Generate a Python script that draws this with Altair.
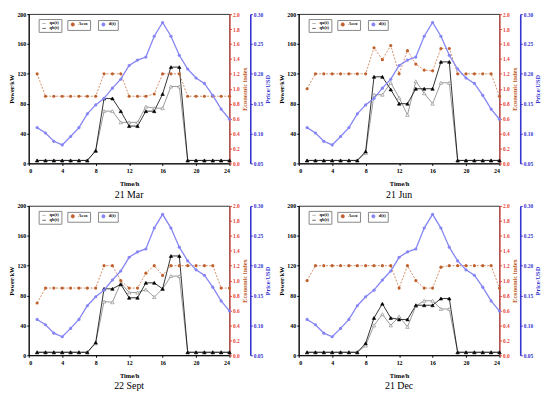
import altair as alt
import pandas as pd

hours = list(range(1, 25))
price = [0.110, 0.101, 0.087, 0.081, 0.095, 0.110, 0.133, 0.148, 0.159, 0.176, 0.191, 0.214,
         0.223, 0.228, 0.263, 0.286, 0.263, 0.231, 0.208, 0.193, 0.184, 0.164, 0.141, 0.124]

panels = ["21 Mar", "21 Jun", "22 Sept", "21 Dec"]

qa_mar = [4, 4, 4, 4, 4, 4, 4, 17, 70, 70, 55, 55, 55, 76, 74, 74, 103, 103, 4, 4, 4, 4, 4, 4]
qb_mar = [4, 4, 4, 4, 4, 4, 4, 17, 87, 87, 70, 50, 50, 70, 70, 93, 129, 129, 4, 4, 4, 4, 4, 4]
aeco_mar = [1.2, 0.9, 0.9, 0.9, 0.9, 0.9, 0.9, 0.9, 1.2, 1.2, 1.2, 0.9, 0.9, 0.9, 0.93, 1.2,
            1.2, 1.2, 0.9, 0.9, 0.9, 0.9, 0.9, 0.9]

qa_jun = [4, 4, 4, 4, 4, 4, 4, 14, 92, 92, 108, 88, 65, 110, 94, 80, 108, 108, 4, 4, 4, 4, 4, 4]
qb_jun = [4, 4, 4, 4, 4, 4, 4, 16, 116, 116, 99, 80, 80, 100, 100, 100, 136, 136, 4, 4, 4, 4, 4, 4]
aeco_jun = [1.0, 1.2, 1.2, 1.2, 1.2, 1.2, 1.2, 1.2, 1.55, 1.39, 1.58, 1.2, 1.51, 1.33, 1.25, 1.24,
            1.54, 1.54, 1.2, 1.2, 1.2, 1.2, 1.2, 0.9]

qa_sep = [4, 4, 4, 4, 4, 4, 4, 16, 72, 71, 97, 84, 84, 88, 78, 89, 106, 106, 4, 4, 4, 4, 4, 4]
qb_sep = [4, 4, 4, 4, 4, 4, 4, 17, 89, 89, 95, 77, 77, 97, 97, 89, 133, 133, 4, 4, 4, 4, 4, 4]
aeco_sep = [0.7, 0.9, 0.9, 0.9, 0.9, 0.9, 0.9, 0.9, 1.2, 1.2, 1.0, 0.9, 0.9, 1.1, 1.2, 1.07,
            1.2, 1.2, 1.2, 1.2, 1.2, 1.2, 0.9, 0.9]

qa_dec = [4, 4, 4, 4, 4, 4, 4, 13, 40, 55, 40, 52, 38, 66, 73, 73, 62, 62, 4, 4, 4, 4, 4, 4]
qb_dec = [4, 4, 4, 4, 4, 4, 4, 16, 50, 69, 50, 48, 48, 67, 67, 67, 76, 76, 4, 4, 4, 4, 4, 4]
aeco_dec = [1.0, 1.2, 1.2, 1.2, 1.2, 1.2, 1.2, 1.2, 1.2, 1.2, 1.2, 0.9, 1.2, 1.0, 0.9, 0.9,
            1.18, 1.2, 1.2, 1.2, 1.2, 1.2, 1.2, 0.9]

series_data = {
    "21 Mar": (qa_mar, qb_mar, aeco_mar),
    "21 Jun": (qa_jun, qb_jun, aeco_jun),
    "22 Sept": (qa_sep, qb_sep, aeco_sep),
    "21 Dec": (qa_dec, qb_dec, aeco_dec),
}

FONT = "Liberation Serif"
W, H = 203, 151
RED = "#e8403a"
BROWN = "#c0602c"
BLUE = "#3535d0"
LBLUE = "#8585f5"


def legend(x, y):
    return alt.Legend(orient="none", legendX=x, legendY=y, title=None,
                      labelFont=FONT, labelFontSize=4.5, labelFontWeight="bold",
                      symbolSize=12, symbolStrokeWidth=0.6, padding=2,
                      rowPadding=0, strokeColor="#888", fillColor="white",
                      labelOffset=3, symbolOffset=1)


def panel(name):
    qa, qb, aeco = series_data[name]
    pw = pd.DataFrame({"h": hours * 2, "v": qa + qb,
                       "s": ["qa(t)"] * 24 + ["qb(t)"] * 24})
    ec = pd.DataFrame({"h": hours, "v": aeco, "s": ["Aeco"] * 24})
    pr = pd.DataFrame({"h": hours, "v": price, "s": ["d(t)"] * 24})

    x = alt.X("h:Q", scale=alt.Scale(domain=[0, 24], nice=False),
              axis=alt.Axis(values=list(range(0, 25, 4)), title="Time/h", grid=False,
                            labelFont=FONT, labelFontSize=6, labelFontWeight="bold",
                            titleFont=FONT, titleFontSize=6.5, titleFontWeight="bold",
                            domainColor="black", tickColor="black", tickSize=2,
                            labelPadding=2, titlePadding=7))

    y_pow = alt.Y("v:Q", scale=alt.Scale(domain=[0, 200], nice=False),
                  axis=alt.Axis(orient="left", values=list(range(0, 201, 40)), title="Power/kW",
                                grid=False, labelFont=FONT, labelFontSize=6, labelFontWeight="bold",
                                titleFont=FONT, titleFontSize=6.5, titleFontWeight="bold",
                                domainColor="black", tickColor="black", tickSize=2,
                                labelPadding=1, titlePadding=2))
    cscale = alt.Scale(domain=["qa(t)", "qb(t)"], range=["#808080", "#000000"])
    lines = alt.Chart(pw).mark_line(strokeWidth=0.8).encode(
        x=x, y=y_pow,
        color=alt.Color("s:N", scale=cscale, legend=legend(10, 5)))
    pts = alt.Chart(pw).mark_point(shape="triangle-up", size=12, strokeWidth=0.6,
                                   opacity=1).encode(
        x=x, y=y_pow,
        color=alt.Color("s:N", scale=cscale, legend=legend(10, 5)),
        fill=alt.Fill("s:N", scale=alt.Scale(domain=["qa(t)", "qb(t)"],
                                             range=["white", "black"]), legend=None))
    power = alt.layer(lines, pts)

    y_eco = alt.Y("v:Q", scale=alt.Scale(domain=[0, 2], nice=False),
                  axis=alt.Axis(orient="right", values=[i / 5 for i in range(11)], format=".1f",
                                title="Economic index", grid=False, titleAngle=270,
                                titleBaseline="top",
                                labelFont=FONT, labelFontSize=5.5, labelFontWeight="bold",
                                labelColor=RED, titleColor=BROWN,
                                titleFont=FONT, titleFontSize=6.5, titleFontWeight="bold",
                                domainColor=RED, domainWidth=1, tickColor=RED, tickSize=2,
                                labelPadding=1, titlePadding=2))
    ecol = alt.Color("s:N", scale=alt.Scale(domain=["Aeco"], range=[BROWN]),
                     legend=legend(39, 6))
    eco = alt.layer(
        alt.Chart(ec).mark_line(strokeWidth=0.7, strokeDash=[2, 1.5]).encode(x=x, y=y_eco, color=ecol),
        alt.Chart(ec).mark_point(shape="circle", filled=True, size=10, opacity=1).encode(
            x=x, y=y_eco, color=ecol),
    )

    y_pr = alt.Y("v:Q", scale=alt.Scale(domain=[0.05, 0.30], nice=False),
                 axis=alt.Axis(orient="right", offset=21, values=[0.05, 0.10, 0.15, 0.20, 0.25, 0.30],
                               format=".2f", title="Price/USD", grid=False, titleAngle=270,
                               titleBaseline="top",
                               labelFont=FONT, labelFontSize=5.5, labelFontWeight="bold",
                               labelColor=BLUE, titleColor=BLUE,
                               titleFont=FONT, titleFontSize=6.5, titleFontWeight="bold",
                               domainColor=BLUE, domainWidth=1.6, tickColor=BLUE, tickSize=2,
                               labelPadding=1, titlePadding=2))
    pcol = alt.Color("s:N", scale=alt.Scale(domain=["d(t)"], range=[LBLUE]),
                     legend=legend(70, 6))
    prl = alt.layer(
        alt.Chart(pr).mark_line(strokeWidth=1.3).encode(x=x, y=y_pr, color=pcol),
        alt.Chart(pr).mark_point(shape="circle", filled=True, size=10, opacity=1).encode(
            x=x, y=y_pr, color=pcol),
    )

    return alt.layer(power, eco, prl).resolve_scale(
        y="independent", color="independent"
    ).properties(
        width=W, height=H,
        title=alt.TitleParams(name, orient="bottom", font=FONT, fontSize=10,
                              fontWeight="normal", offset=3)
    )


top = alt.hconcat(panel("21 Mar"), panel("21 Jun"), spacing=6)
bottom = alt.hconcat(panel("22 Sept"), panel("21 Dec"), spacing=6)
chart = alt.vconcat(top, bottom, spacing=2).configure_view(
    stroke="black", strokeWidth=0.8
).properties(padding=0, background="white")

chart.save("out.html", embed_options={"renderer": "svg", "actions": False})
